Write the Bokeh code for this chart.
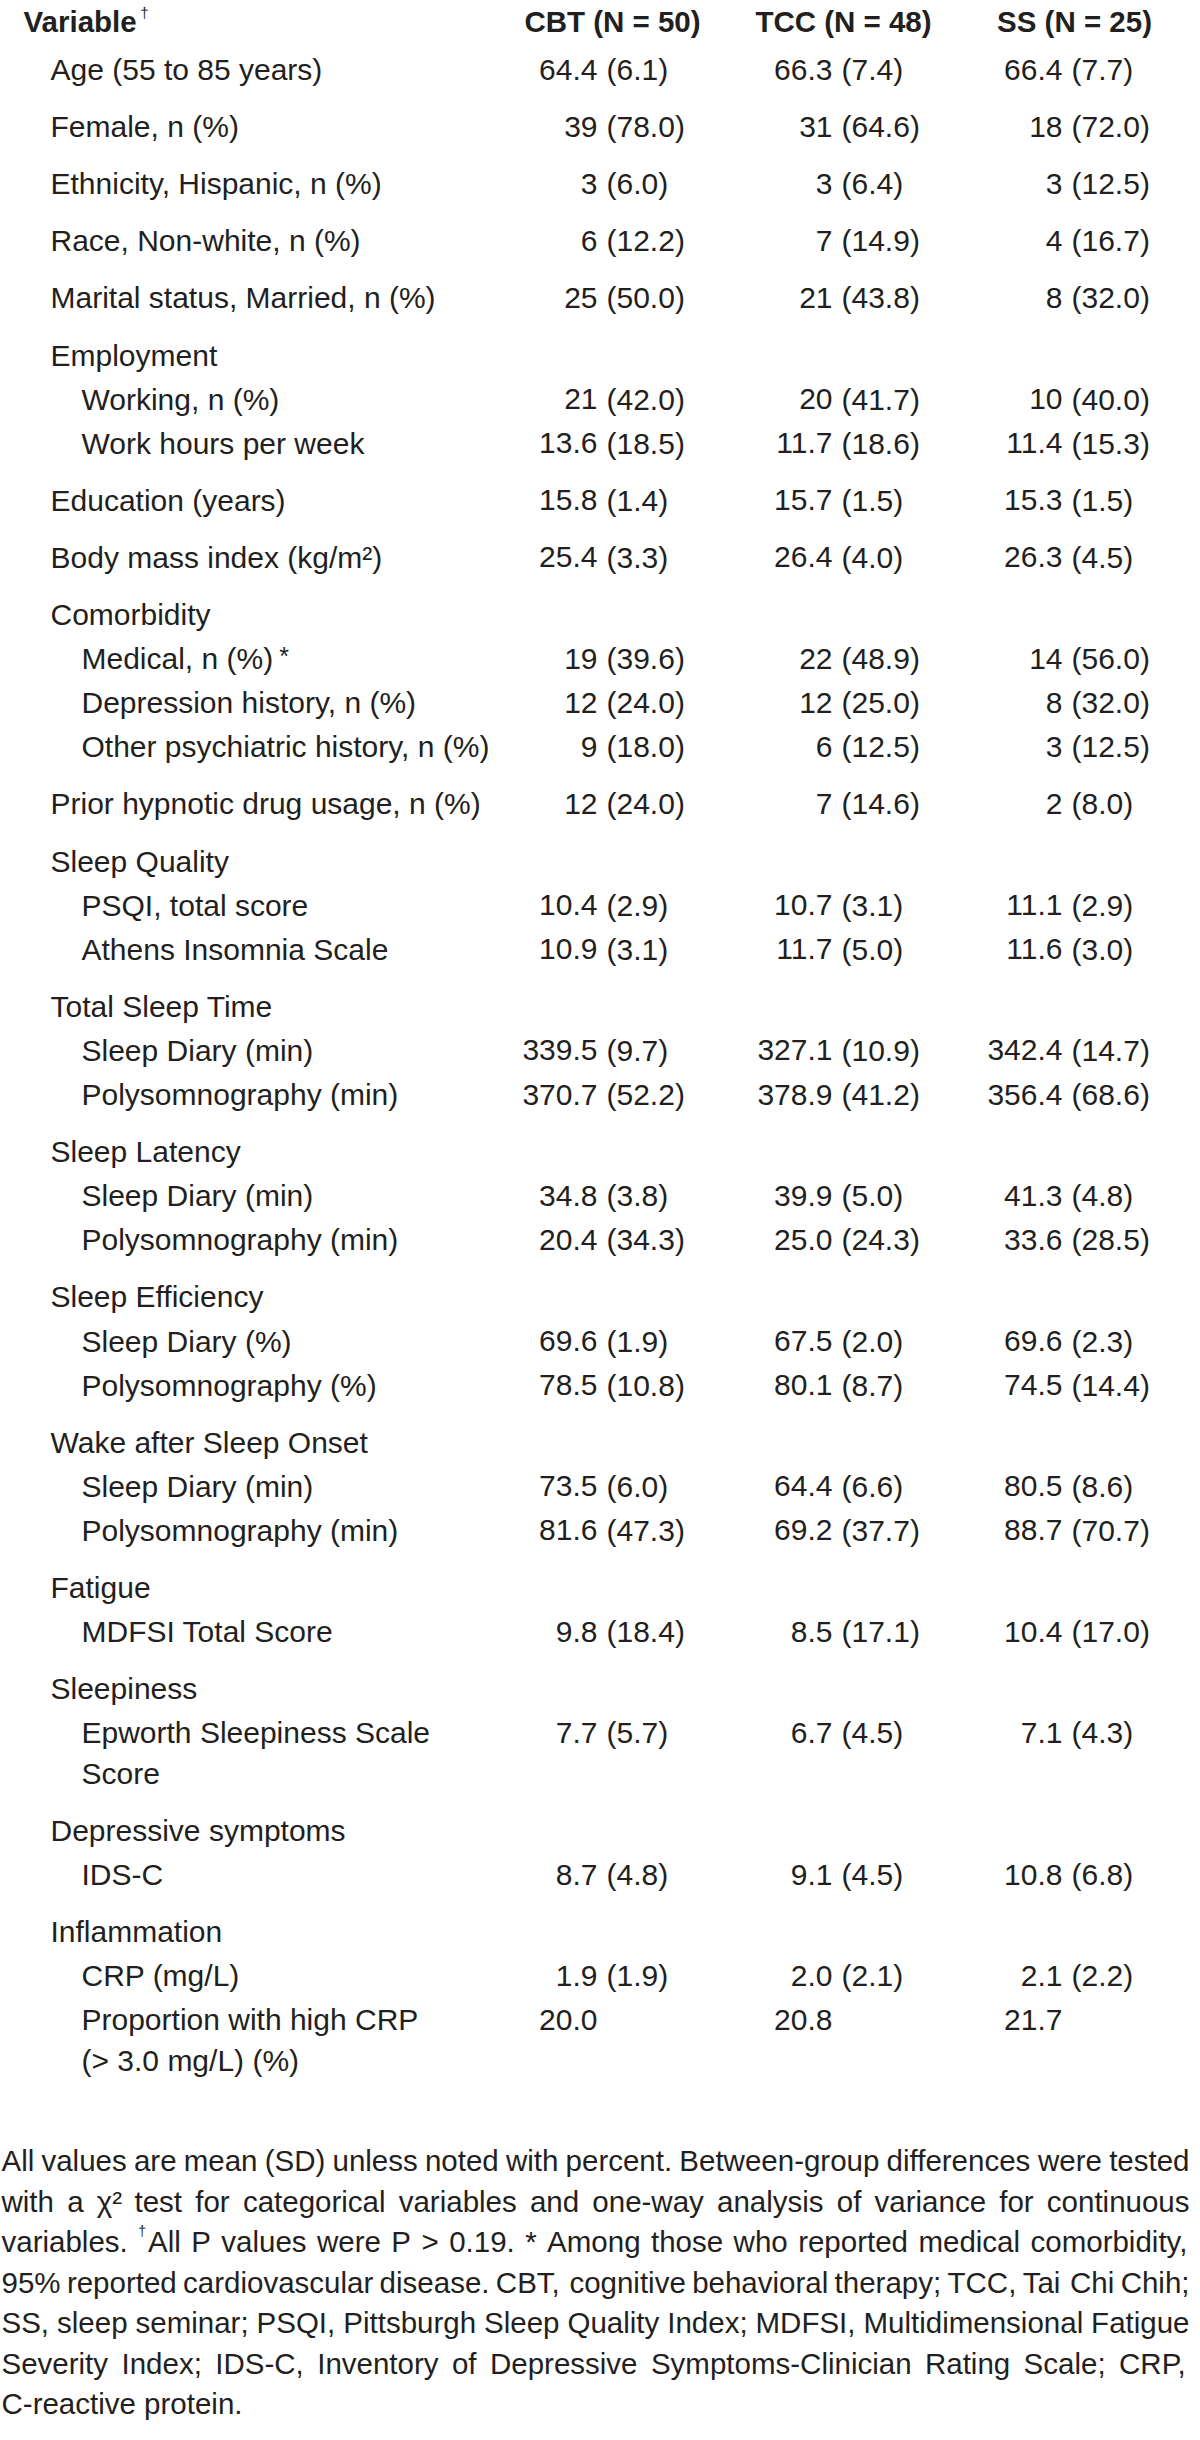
from bokeh.plotting import figure
from bokeh.models import Range1d
from bokeh.core.properties import value
from bokeh.embed import file_html
from bokeh.resources import INLINE

# ---------------- data ----------------
header_variable = "Variable"
columns = ["CBT (N = 50)", "TCC (N = 48)", "SS (N = 25)"]

labels = [
    "Age (55 to 85 years)", "Female, n (%)", "Ethnicity, Hispanic, n (%)",
    "Race, Non-white, n (%)", "Marital status, Married, n (%)",
    "Employment", "Working, n (%)", "Work hours per week",
    "Education (years)", "Body mass index (kg/m\u00b2)",
    "Comorbidity", "Medical, n (%)", "Depression history, n (%)",
    "Other psychiatric history, n (%)",
    "Prior hypnotic drug usage, n (%)",
    "Sleep Quality", "PSQI, total score", "Athens Insomnia Scale",
    "Total Sleep Time", "Sleep Diary (min)", "Polysomnography (min)",
    "Sleep Latency", "Sleep Diary (min)", "Polysomnography (min)",
    "Sleep Efficiency", "Sleep Diary (%)", "Polysomnography (%)",
    "Wake after Sleep Onset", "Sleep Diary (min)", "Polysomnography (min)",
    "Fatigue", "MDFSI Total Score",
    "Sleepiness", "Epworth Sleepiness Scale", "Score",
    "Depressive symptoms", "IDS-C",
    "Inflammation", "CRP (mg/L)", "Proportion with high CRP", "(> 3.0 mg/L) (%)",
]
# 0 = top-level label, 1 = indented sub-label
levels = [0, 0, 0, 0, 0,
          0, 1, 1,
          0, 0,
          0, 1, 1, 1,
          0,
          0, 1, 1,
          0, 1, 1,
          0, 1, 1,
          0, 1, 1,
          0, 1, 1,
          0, 1,
          0, 1, 1,
          0, 1,
          0, 1, 1, 1]
# g = new group, l = next line in group, w = wrapped continuation
row_kind = ["g", "g", "g", "g", "g",
            "g", "l", "l",
            "g", "g",
            "g", "l", "l", "l",
            "g",
            "g", "l", "l",
            "g", "l", "l",
            "g", "l", "l",
            "g", "l", "l",
            "g", "l", "l",
            "g", "l",
            "g", "l", "w",
            "g", "l",
            "g", "l", "l", "w"]

cbt_mean = ["64.4", "39", "3", "6", "25", "", "21", "13.6", "15.8", "25.4", "", "19", "12", "9", "12",
            "", "10.4", "10.9", "", "339.5", "370.7", "", "34.8", "20.4", "", "69.6", "78.5", "", "73.5", "81.6",
            "", "9.8", "", "7.7", "", "", "8.7", "", "1.9", "20.0", ""]
cbt_sd = ["6.1", "78.0", "6.0", "12.2", "50.0", "", "42.0", "18.5", "1.4", "3.3", "", "39.6", "24.0", "18.0", "24.0",
          "", "2.9", "3.1", "", "9.7", "52.2", "", "3.8", "34.3", "", "1.9", "10.8", "", "6.0", "47.3",
          "", "18.4", "", "5.7", "", "", "4.8", "", "1.9", "", ""]
tcc_mean = ["66.3", "31", "3", "7", "21", "", "20", "11.7", "15.7", "26.4", "", "22", "12", "6", "7",
            "", "10.7", "11.7", "", "327.1", "378.9", "", "39.9", "25.0", "", "67.5", "80.1", "", "64.4", "69.2",
            "", "8.5", "", "6.7", "", "", "9.1", "", "2.0", "20.8", ""]
tcc_sd = ["7.4", "64.6", "6.4", "14.9", "43.8", "", "41.7", "18.6", "1.5", "4.0", "", "48.9", "25.0", "12.5", "14.6",
          "", "3.1", "5.0", "", "10.9", "41.2", "", "5.0", "24.3", "", "2.0", "8.7", "", "6.6", "37.7",
          "", "17.1", "", "4.5", "", "", "4.5", "", "2.1", "", ""]
ss_mean = ["66.4", "18", "3", "4", "8", "", "10", "11.4", "15.3", "26.3", "", "14", "8", "3", "2",
           "", "11.1", "11.6", "", "342.4", "356.4", "", "41.3", "33.6", "", "69.6", "74.5", "", "80.5", "88.7",
           "", "10.4", "", "7.1", "", "", "10.8", "", "2.1", "21.7", ""]
ss_sd = ["7.7", "72.0", "12.5", "16.7", "32.0", "", "40.0", "15.3", "1.5", "4.5", "", "56.0", "32.0", "12.5", "8.0",
         "", "2.9", "3.0", "", "14.7", "68.6", "", "4.8", "28.5", "", "2.3", "14.4", "", "8.6", "70.7",
         "", "17.0", "", "4.3", "", "", "6.8", "", "2.2", "", ""]

footnote_lines = [
    "All values are mean (SD) unless noted with percent. Between-group differences were tested",
    "with a \u03c7\u00b2 test for categorical variables and one-way analysis of variance for continuous",
    "variables. \u2020All P values were P > 0.19. * Among those who reported medical comorbidity,",
    "95% reported cardiovascular disease. CBT, cognitive behavioral therapy; TCC, Tai Chi Chih;",
    "SS, sleep seminar; PSQI, Pittsburgh Sleep Quality Index; MDFSI, Multidimensional Fatigue",
    "Severity Index; IDS-C, Inventory of Depressive Symptoms-Clinician Rating Scale; CRP,",
    "C-reactive protein.",
]

# ---------------- layout / style ----------------
TXT = "#231f20"
FONT = "Liberation Sans"
TABLE_SIZE = 30
HEAD_SIZE = 29.5
NOTE_SIZE = 29.5

W = {' ': 278, '%': 889, '(': 333, ')': 333, '*': 389, ',': 278, '-': 333, '.': 278, '/': 278,
     ':': 278, ';': 278, '>': 584, '=': 584, '\u00b2': 333, '\u03c7': 500, '\u2020': 556}
for c in "0123456789":
    W[c] = 556
W.update(dict(zip("ABCDEFGHIJKLMNOPQRSTUVWXYZ",
                  [667, 667, 722, 722, 667, 611, 778, 722, 278, 500, 667, 556, 833, 722, 778, 667, 778, 722,
                   667, 611, 722, 667, 944, 667, 667, 611])))
W.update(dict(zip("abcdefghijklmnopqrstuvwxyz",
                  [556, 556, 500, 556, 556, 278, 556, 556, 222, 222, 500, 222, 833, 556, 556, 556, 556, 333,
                   500, 278, 556, 500, 722, 500, 500, 500])))
WB = {'V': 667, 'a': 556, 'r': 389, 'i': 278, 'b': 611, 'l': 278, 'e': 556}


def tw(s, size, table=W):
    return sum(table.get(ch, 556) for ch in s) / 1000.0 * size


LABEL_X = {0: 58, 1: 89}
MEAN_X = [605, 840, 1070]
SD_GAP = 9
HEAD_X = [620, 851, 1082]
FIRST_BASE = 77
STEP = {"g": 57.1, "l": 44.1, "w": 40.5}

# row baselines
ys = []
cur = FIRST_BASE
for i, k in enumerate(row_kind):
    if i > 0:
        cur += STEP[k]
    ys.append(cur)

p = figure(width=1192, height=2432, x_range=Range1d(8, 1200), y_range=Range1d(2440, 8),
           output_backend="svg", toolbar_location=None, min_border=0,
           x_axis_location=None, y_axis_location=None)
p.grid.visible = False
p.outline_line_color = None
p.background_fill_color = "white"

common = dict(text_baseline="alphabetic", text_color=TXT, text_font=value(FONT))

# header
HEAD_BASE = 28.5
p.text(x=[31], y=[HEAD_BASE], text=[header_variable],
       text_font_size=f"{HEAD_SIZE}px", text_font_style="bold", text_align="left", **common)
vw = tw(header_variable, HEAD_SIZE, WB)
p.text(x=[31 + vw + 2], y=[HEAD_BASE - 9], text=["\u2020"],
       text_font_size="15px", text_align="left", **common)
p.text(x=HEAD_X, y=[HEAD_BASE] * 3, text=columns,
       text_font_size=f"{HEAD_SIZE}px", text_font_style="bold", text_align="center", **common)

# labels
p.text(x=[LABEL_X[l] for l in levels], y=ys, text=labels,
       text_font_size=f"{TABLE_SIZE}px", text_align="left", **common)
# asterisk on "Medical"
mi = labels.index("Medical, n (%)")
p.text(x=[LABEL_X[levels[mi]] + tw(labels[mi], TABLE_SIZE) + 6], y=[ys[mi] - 3], text=["*"],
       text_font_size="25px", text_align="left", **common)

# values
for cx, means, sds in zip(MEAN_X, [cbt_mean, tcc_mean, ss_mean], [cbt_sd, tcc_sd, ss_sd]):
    mx, my, mt, sx, sy, st = [], [], [], [], [], []
    for y, m, s in zip(ys, means, sds):
        if m:
            mx.append(cx); my.append(y); mt.append(m)
        if s:
            sx.append(cx + SD_GAP); sy.append(y); st.append("(" + s + ")")
    p.text(x=mx, y=my, text=mt, text_font_size=f"{TABLE_SIZE}px", text_align="right", **common)
    p.text(x=sx, y=sy, text=st, text_font_size=f"{TABLE_SIZE}px", text_align="left", **common)

# footnote, justified
NOTE_LEFT, NOTE_RIGHT = 9, 1197
NOTE_BASE, NOTE_STEP = 2168, 40.5
DAG = 14
wx, wy, wt, dx, dy = [], [], [], [], []
for li, line in enumerate(footnote_lines):
    y = NOTE_BASE + li * NOTE_STEP
    words = line.split(" ")
    widths = []
    for wd in words:
        if wd.startswith("\u2020"):
            widths.append(tw("\u2020", DAG) + 2 + tw(wd[1:], NOTE_SIZE))
        else:
            widths.append(tw(wd, NOTE_SIZE))
    last = li == len(footnote_lines) - 1
    if last or len(words) < 2:
        gap = tw(" ", NOTE_SIZE)
    else:
        gap = (NOTE_RIGHT - NOTE_LEFT - sum(widths)) / (len(words) - 1)
    x = NOTE_LEFT
    for wd, w in zip(words, widths):
        if wd.startswith("\u2020"):
            dx.append(x); dy.append(y - 11)
            wx.append(x + tw("\u2020", DAG) + 2); wy.append(y); wt.append(wd[1:])
        else:
            wx.append(x); wy.append(y); wt.append(wd)
        x += w + gap

p.text(x=wx, y=wy, text=wt, text_font_size=f"{NOTE_SIZE}px", text_align="left", **common)
p.text(x=dx, y=dy, text=["\u2020"] * len(dx), text_font_size=f"{DAG}px", text_align="left", **common)

open("out.html", "w").write(file_html(p, INLINE))
